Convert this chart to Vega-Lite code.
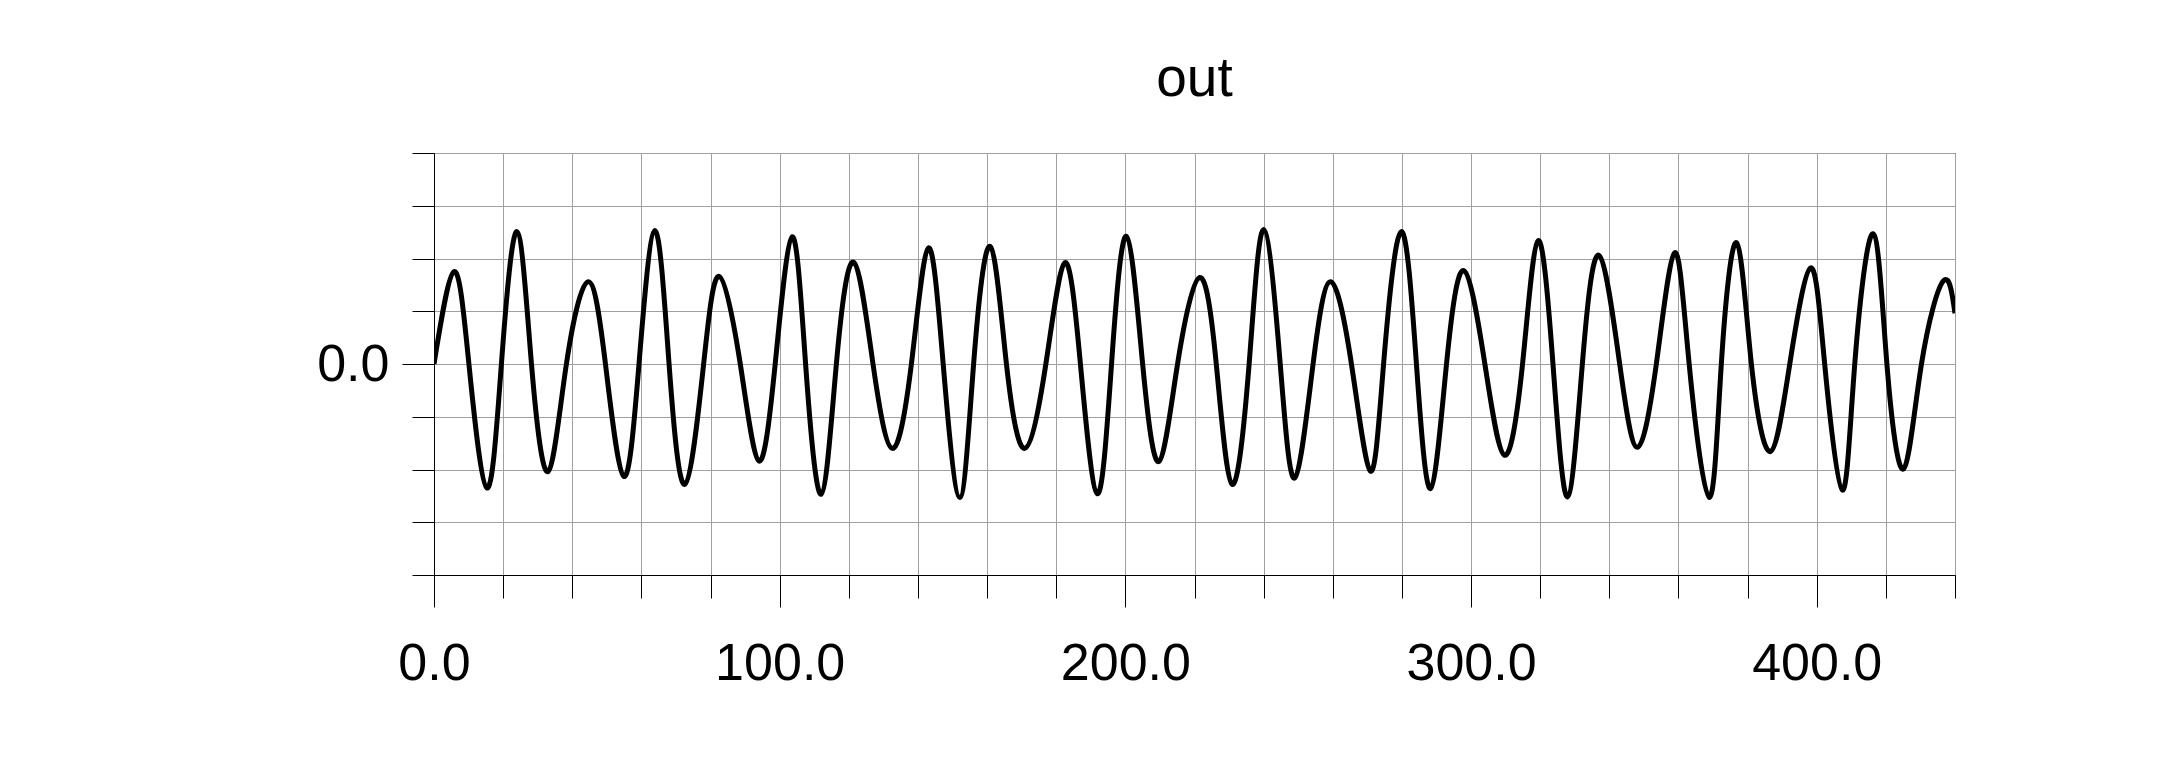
{
  "$schema": "https://vega.github.io/schema/vega-lite/v6.json",
  "width": 1521,
  "height": 422,
  "autosize": {"type": "none"},
  "padding": {"left": 434, "top": 153, "right": 218, "bottom": 193},
  "background": "white",
  "view": {"stroke": "black", "strokeWidth": 1},
  "title": {
    "text": "out",
    "font": "Liberation Sans",
    "fontSize": 55,
    "fontWeight": "normal",
    "color": "black",
    "anchor": "middle",
    "baseline": "alphabetic",
    "offset": 56,
    "dy": 80
  },
  "data": {
    "values": [
      {"t": 0, "v": 0},
      {"t": 5.8, "v": 1.75},
      {"t": 10.1, "v": 0},
      {"t": 15.3, "v": -2.35},
      {"t": 19.5, "v": 0},
      {"t": 24.0, "v": 2.51},
      {"t": 28.2, "v": 0},
      {"t": 33.0, "v": -2.04},
      {"t": 38.3, "v": 0},
      {"t": 44.6, "v": 1.56},
      {"t": 49.6, "v": 0},
      {"t": 54.9, "v": -2.13},
      {"t": 59.3, "v": 0},
      {"t": 63.9, "v": 2.53},
      {"t": 68.0, "v": 0},
      {"t": 72.6, "v": -2.28},
      {"t": 78.0, "v": 0},
      {"t": 82.5, "v": 1.66},
      {"t": 88.6, "v": 0},
      {"t": 94.0, "v": -1.84},
      {"t": 98.7, "v": 0},
      {"t": 103.6, "v": 2.41},
      {"t": 107.5, "v": 0},
      {"t": 112.0, "v": -2.47},
      {"t": 116.4, "v": 0},
      {"t": 121.4, "v": 1.93},
      {"t": 127.0, "v": 0},
      {"t": 132.6, "v": -1.60},
      {"t": 138.1, "v": 0},
      {"t": 143.0, "v": 2.20},
      {"t": 147.3, "v": 0},
      {"t": 152.1, "v": -2.53},
      {"t": 156.1, "v": 0},
      {"t": 160.9, "v": 2.23},
      {"t": 165.6, "v": 0},
      {"t": 170.9, "v": -1.60},
      {"t": 177.0, "v": 0},
      {"t": 182.5, "v": 1.92},
      {"t": 187.0, "v": 0},
      {"t": 191.9, "v": -2.46},
      {"t": 196.0, "v": 0},
      {"t": 200.3, "v": 2.42},
      {"t": 205.0, "v": 0},
      {"t": 209.7, "v": -1.85},
      {"t": 215.1, "v": 0},
      {"t": 221.5, "v": 1.64},
      {"t": 226.3, "v": 0},
      {"t": 230.9, "v": -2.28},
      {"t": 235.8, "v": 0},
      {"t": 240.0, "v": 2.55},
      {"t": 244.8, "v": 0},
      {"t": 249.0, "v": -2.16},
      {"t": 254.3, "v": 0},
      {"t": 259.4, "v": 1.56},
      {"t": 265.4, "v": 0},
      {"t": 270.9, "v": -2.03},
      {"t": 274.7, "v": 0},
      {"t": 279.8, "v": 2.51},
      {"t": 284.2, "v": 0},
      {"t": 288.3, "v": -2.36},
      {"t": 292.9, "v": 0},
      {"t": 297.9, "v": 1.77},
      {"t": 304.0, "v": 0},
      {"t": 309.7, "v": -1.73},
      {"t": 314.9, "v": 0},
      {"t": 319.4, "v": 2.34},
      {"t": 323.7, "v": 0},
      {"t": 327.9, "v": -2.52},
      {"t": 332.2, "v": 0},
      {"t": 337.0, "v": 2.06},
      {"t": 343.0, "v": 0},
      {"t": 348.1, "v": -1.58},
      {"t": 353.6, "v": 0},
      {"t": 358.9, "v": 2.11},
      {"t": 363.1, "v": 0},
      {"t": 368.9, "v": -2.53},
      {"t": 372.4, "v": 0},
      {"t": 376.8, "v": 2.30},
      {"t": 381.1, "v": 0},
      {"t": 386.6, "v": -1.66},
      {"t": 392.2, "v": 0},
      {"t": 398.2, "v": 1.82},
      {"t": 402.3, "v": 0},
      {"t": 407.4, "v": -2.39},
      {"t": 411.0, "v": 0},
      {"t": 416.3, "v": 2.47},
      {"t": 420.3, "v": 0},
      {"t": 425.1, "v": -1.99},
      {"t": 430.3, "v": 0},
      {"t": 436.7, "v": 1.58},
      {"t": 440, "v": 0.96}
    ]
  },
  "mark": {"type": "line", "color": "black", "strokeWidth": 5, "interpolate": "natural", "clip": true},
  "encoding": {
    "x": {
      "field": "t",
      "type": "quantitative",
      "scale": {"domain": [0, 440], "nice": false, "zero": false},
      "axis": {
        "title": null,
        "orient": "bottom",
        "values": [0, 20, 40, 60, 80, 100, 120, 140, 160, 180, 200, 220, 240, 260, 280, 300, 320, 340, 360, 380, 400, 420, 440],
        "labelExpr": "datum.value % 100 === 0 ? format(datum.value, '.1f') : ''",
        "labelFont": "Liberation Sans",
        "labelFontSize": 52,
        "labelColor": "black",
        "labelPadding": 31,
        "labelOverlap": false,
        "labelFlush": false,
        "labelBaseline": "top",
        "tickSize": {"condition": {"test": "datum.value % 100 === 0", "value": 32}, "value": 23},
        "tickColor": "black",
        "tickWidth": 1,
        "domainColor": "black",
        "domainWidth": 1,
        "grid": true,
        "gridColor": "#a0a0a0",
        "gridWidth": 1,
        "gridOpacity": 1
      }
    },
    "y": {
      "field": "v",
      "type": "quantitative",
      "scale": {"domain": [-4, 4], "nice": false, "zero": false},
      "axis": {
        "title": null,
        "orient": "left",
        "values": [-4, -3, -2, -1, 0, 1, 2, 3, 4],
        "labelExpr": "datum.value === 0 ? '0.0' : ''",
        "labelFont": "Liberation Sans",
        "labelFontSize": 52,
        "labelColor": "black",
        "labelPadding": 13,
        "labelOverlap": false,
        "labelFlush": false,
        "labelBaseline": "middle",
        "tickSize": {"condition": {"test": "datum.value === 0", "value": 32}, "value": 22},
        "tickColor": "black",
        "tickWidth": 1,
        "domainColor": "black",
        "domainWidth": 1,
        "grid": true,
        "gridColor": "#a0a0a0",
        "gridWidth": 1,
        "gridOpacity": 1
      }
    }
  }
}
